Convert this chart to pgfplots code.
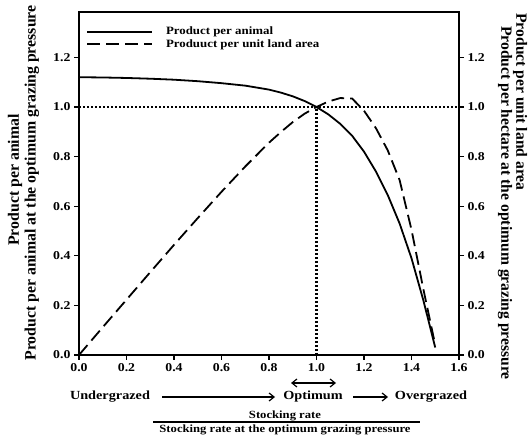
\documentclass[border=0pt]{standalone}
\usepackage{pgfplots}
\pgfplotsset{compat=1.18}
\usepackage{fontspec}
\setmainfont{Liberation Serif}[FakeStretch=1.15]
\newfontfamily\rotfont{Liberation Serif}
\usetikzlibrary{arrows.meta}
\begin{document}
\begin{tikzpicture}
\pgfplotsset{
  base/.style={
    scale only axis, width=380pt, height=343pt,
    xmin=0, xmax=1.6, ymin=0, ymax=1.383,
    axis line style={line width=1.5pt},
    tick style={line width=1.3pt, black},
    major tick length=5pt,
    tick align=outside,
    /pgf/number format/assume math mode=true,
    /pgf/number format/.cd, fixed, fixed zerofill, precision=1,
    /pgfplots/.cd,
    tick label style={font=\bfseries\fontsize{12}{12}\selectfont},
  }
}
\begin{axis}[base,
  xtick={0,0.2,...,1.6},
  ytick={0,0.2,0.4,0.6,0.8,1.0,1.2},
  xtick pos=bottom, ytick pos=left,
  legend cell align=left,
  legend style={draw=none, fill=none, at={(0.0,1.0)}, anchor=north west,
    xshift=5pt, yshift=-9pt,
    font=\bfseries\fontsize{11.2}{13}\selectfont, row sep=-1pt,
    inner xsep=2pt, inner ysep=4pt},
  legend image code/.code={\draw[#1] (0pt,0pt) -- (65pt,0pt); \path (76pt,0pt);},
]
\addplot[black, line width=1.8pt] coordinates {
(0,1.120) (0.1,1.119) (0.2,1.117) (0.3,1.114) (0.4,1.110) (0.5,1.104)
(0.6,1.096) (0.7,1.086) (0.8,1.070) (0.85,1.058) (0.9,1.043) (0.95,1.024)
(1.0,1.000) (1.05,0.970) (1.1,0.932) (1.15,0.884) (1.2,0.820) (1.25,0.740)
(1.3,0.645) (1.35,0.530) (1.4,0.390) (1.45,0.220) (1.5,0.030)};
\addlegendentry{Product per animal}
\addplot[black, line width=1.8pt, dash pattern=on 13pt off 6pt] coordinates {
(0,0) (0.1,0.112) (0.2,0.223) (0.3,0.334) (0.4,0.444) (0.5,0.552)
(0.6,0.658) (0.7,0.760) (0.8,0.856) (0.85,0.899) (0.9,0.939) (0.95,0.973)
(1.0,1.000) (1.05,1.022) (1.1,1.036) (1.15,1.034) (1.2,0.985) (1.25,0.915)
(1.3,0.825) (1.35,0.705) (1.4,0.505) (1.45,0.265) (1.5,0.040)};
\addlegendentry{Produuct per unit land area}
\addplot[black, line width=2.1pt, dash pattern=on 1.7pt off 2.3pt, forget plot] coordinates {(0,1) (1.6,1)};
\addplot[black, line width=2.1pt, dash pattern=on 1.7pt off 2.3pt, forget plot] coordinates {(1,0) (1,1)};
\end{axis}
\begin{axis}[base,
  xtick=\empty,
  ytick={0,0.2,0.4,0.6,0.8,1.0,1.2},
  ytick pos=right, yticklabel pos=right,
]
\end{axis}
% axis titles
\node[rotate=90, font=\rotfont\bfseries\fontsize{15.8}{16}\selectfont] at (-64pt,175pt) {Product per animal};
\node[rotate=90, font=\rotfont\bfseries\fontsize{15.8}{16}\selectfont] at (-47pt,172pt) {Product per animal at the optimum grazing pressure};
\node[rotate=-90, font=\rotfont\bfseries\fontsize{15.6}{16}\selectfont] at (441pt,253pt) {Product per unit land area};
\node[rotate=-90, font=\rotfont\bfseries\fontsize{15.6}{16}\selectfont] at (426pt,152pt) {Product per hectare at the optimum grazing pressure};
% bottom annotations
\begin{scope}[font=\bfseries\fontsize{12.4}{13}\selectfont]
\node at (31pt,-42pt) {Undergrazed};
\node at (234pt,-42pt) {Optimum};
\node at (352pt,-42pt) {Overgrazed};
\end{scope}
\draw[line width=1.2pt, -{Straight Barb[length=5pt,width=8pt]}] (83pt,-42pt) -- (196pt,-42pt);
\draw[line width=1.2pt, -{Straight Barb[length=5pt,width=8pt]}] (274pt,-42pt) -- (309pt,-42pt);
\draw[line width=1.2pt, {Straight Barb[length=5pt,width=8pt]}-{Straight Barb[length=5pt,width=8pt]}] (212pt,-28pt) -- (257pt,-28pt);
\node[font=\bfseries\fontsize{11}{12}\selectfont] at (206pt,-61pt) {Stocking rate};
\draw[line width=1.1pt] (74pt,-67pt) -- (341pt,-67pt);
\node[font=\bfseries\fontsize{11}{12}\selectfont] at (206pt,-75pt) {Stocking rate at the optimum grazing pressure};
\pgfresetboundingbox
\path[use as bounding box] (-79pt,-83pt) rectangle (450pt,355pt);
\end{tikzpicture}
\end{document}
